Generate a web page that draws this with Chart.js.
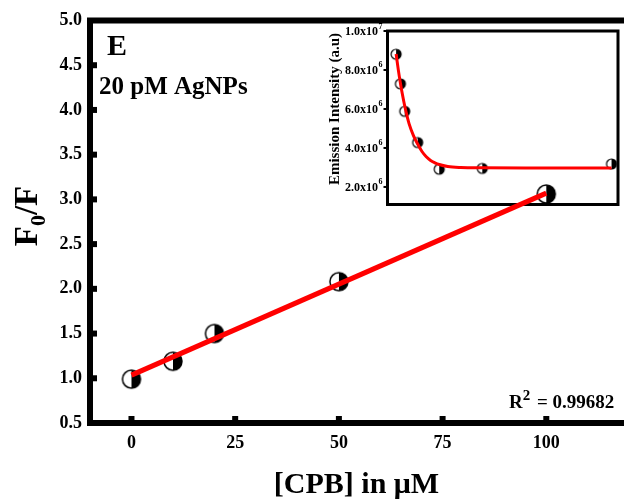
<!DOCTYPE html>
<html>
<head>
<meta charset="utf-8">
<script src="https://cdn.jsdelivr.net/npm/chart.js@4.4.0/dist/chart.umd.min.js"></script>
<style>
  html, body { margin: 0; padding: 0; background: #fff; overflow: hidden; }
  #wrap { position: relative; width: 624px; height: 501px; overflow: hidden; background: #fff; }
  #inset, #main { position: absolute; left: 0; top: 0; }
</style>
</head>
<body>
<div id="wrap">
  <canvas id="inset" width="624" height="501"></canvas>
  <canvas id="main" width="660" height="501"></canvas>
</div>
<script>
// Stern–Volmer plot: F0/F against CPB concentration (uM)
const cpbConc = [0, 10, 20, 50, 100];
const f0OverF = [0.99, 1.19, 1.50, 2.08, 3.06];
// linear fit end points
const fitConc = [0, 100];
const fitRatio = [1.035, 3.07];
const xTickValues = [0, 25, 50, 75, 100];
const yTickValues = [0.5, 1.0, 1.5, 2.0, 2.5, 3.0, 3.5, 4.0, 4.5, 5.0];

// Inset: emission intensity against CPB concentration
const insetConc = [0, 1, 2, 5, 10, 20, 50];
const insetIntensity = [8.81e6, 7.29e6, 5.88e6, 4.28e6, 2.91e6, 2.95e6, 3.18e6];
// decay fit curve
const insetFitConc = [0, 0.5, 1, 1.5, 2, 2.5, 3, 4, 5, 6, 7, 8, 9, 10, 12, 15, 20, 30, 40, 50];
const insetFitIntensity = [8.82e6, 8.02e6, 7.32e6, 6.70e6, 6.15e6, 5.67e6, 5.25e6, 4.65e6, 4.20e6,
  3.82e6, 3.55e6, 3.36e6, 3.24e6, 3.15e6, 3.05e6, 3.00e6, 2.98e6, 2.97e6, 2.97e6, 2.97e6];
const insetYTickValues = [2e6, 4e6, 6e6, 8e6, 1e7];

const SERIF = "'Liberation Serif', 'Times New Roman', serif";

// half white / half black circle marker
function halfMarker(r, lw) {
  const c = document.createElement('canvas');
  const s = Math.ceil(2 * r + lw + 2);
  c.width = s; c.height = s;
  const g = c.getContext('2d');
  const m = s / 2;
  g.fillStyle = '#fff';
  g.beginPath(); g.arc(m, m, r, 0, 2 * Math.PI); g.fill();
  g.fillStyle = '#000';
  g.beginPath(); g.moveTo(m, m - r); g.arc(m, m, r, -Math.PI / 2, Math.PI / 2); g.closePath(); g.fill();
  g.lineWidth = lw; g.strokeStyle = '#000';
  g.beginPath(); g.arc(m, m, r, 0, 2 * Math.PI); g.stroke();
  return c;
}

function toXY(xs, ys) { return xs.map((x, i) => ({ x: x, y: ys[i] })); }

// ---------- inset ----------
const insetFrame = {
  id: 'insetFrame',
  afterDatasetsDraw(chart) {
    const { ctx, chartArea: a, scales } = chart;
    ctx.save();
    ctx.strokeStyle = '#000';
    ctx.lineWidth = 3;
    ctx.strokeRect(a.left, a.top, a.right - a.left, a.bottom - a.top);
    const ys = scales.y;
    ctx.fillStyle = '#000';
    insetYTickValues.forEach(v => {
      const py = ys.getPixelForValue(v);
      ctx.fillRect(a.left - 4, py - 1, 3, 2);
      const e = Math.floor(Math.log10(v) + 1e-9);
      const mant = (v / Math.pow(10, e)).toFixed(1) + 'x10';
      ctx.font = 'bold 8px ' + SERIF;
      const ew = ctx.measureText(String(e)).width;
      const xr = a.left - 5;
      ctx.textAlign = 'left'; ctx.textBaseline = 'alphabetic';
      ctx.fillText(String(e), xr - ew, py - 2.5);
      ctx.font = 'bold 12px ' + SERIF;
      ctx.textAlign = 'right'; ctx.textBaseline = 'middle';
      ctx.fillText(mant, xr - ew - 0.5, py + 0.5);
    });
    ctx.translate(335, 109);
    ctx.rotate(-Math.PI / 2);
    ctx.font = 'bold 15px ' + SERIF;
    ctx.textAlign = 'center'; ctx.textBaseline = 'middle';
    ctx.fillText('Emission Intensity (a.u)', 0, 0);
    ctx.restore();
  }
};

new Chart(document.getElementById('inset'), {
  type: 'scatter',
  data: {
    datasets: [
      {
        data: toXY(insetFitConc, insetFitIntensity),
        showLine: true, borderColor: '#ff0000', borderWidth: 3,
        pointRadius: 0, cubicInterpolationMode: 'monotone', fill: false
      },
      {
        data: toXY(insetConc, insetIntensity),
        pointStyle: halfMarker(5, 1.2), pointRadius: 5, showLine: false
      }
    ]
  },
  options: {
    responsive: false, animation: false, events: [],
    layout: { padding: { left: 320, top: 31, right: 5.5, bottom: 296.5 } },
    plugins: { legend: { display: false }, tooltip: { enabled: false } },
    scales: {
      x: { type: 'linear', min: -2, max: 51.5, display: false },
      y: {
        type: 'linear', min: 1.1e6, max: 1e7,
        grid: { display: false, drawTicks: false },
        border: { display: false },
        ticks: { display: false },
        afterFit(s) { s.width = 67.5; }
      }
    }
  },
  plugins: [insetFrame]
});

// ---------- main plot ----------
const mainFrame = {
  id: 'mainFrame',
  beforeDatasetsDraw(chart) {
    const { ctx, chartArea: a, scales } = chart;
    ctx.save();
    ctx.strokeStyle = '#000';
    ctx.lineWidth = 6;
    ctx.beginPath();
    ctx.moveTo(a.right + 10, a.top);
    ctx.lineTo(a.left, a.top);
    ctx.lineTo(a.left, a.bottom);
    ctx.lineTo(a.right + 10, a.bottom);
    ctx.stroke();
    ctx.fillStyle = '#000';
    yTickValues.slice(1, -1).forEach(v => {
      const py = scales.y.getPixelForValue(v);
      ctx.fillRect(a.left + 3, py - 3, 4, 6);
    });
    xTickValues.forEach(v => {
      const px = scales.x.getPixelForValue(v);
      ctx.fillRect(px - 3, a.bottom - 7, 6, 4);
    });
    ctx.restore();
  },
  afterDraw(chart) {
    const { ctx } = chart;
    ctx.save();
    ctx.fillStyle = '#000';
    ctx.textBaseline = 'alphabetic';
    ctx.textAlign = 'left';
    ctx.font = 'bold 30px ' + SERIF;
    ctx.fillText('E', 107, 55);
    ctx.font = 'bold 25px ' + SERIF;
    ctx.fillText('20 pM AgNPs', 99, 94);

    // x axis title
    ctx.font = 'bold 30px ' + SERIF;
    ctx.textAlign = 'center';
    ctx.fillText('[CPB] in \u03BCM', 356.5, 493);

    // y axis title F0/F
    ctx.save();
    ctx.translate(37, 216);
    ctx.rotate(-Math.PI / 2);
    ctx.textAlign = 'left';
    const big = 'bold 33px ' + SERIF, small = 'bold 22px ' + SERIF;
    ctx.font = big; const wF = ctx.measureText('F').width; const wSl = ctx.measureText('/F').width;
    ctx.font = small; const w0 = ctx.measureText('0').width;
    let x0 = -(wF + w0 + wSl) / 2;
    ctx.font = big; ctx.fillText('F', x0, 0);
    ctx.font = small; ctx.fillText('0', x0 + wF, 8);
    ctx.font = big; ctx.fillText('/F', x0 + wF + w0, 0);
    ctx.restore();

    // R squared
    ctx.textAlign = 'left';
    ctx.font = 'bold 19px ' + SERIF;
    ctx.fillText('R', 509, 408);
    const wR = ctx.measureText('R').width;
    ctx.font = 'bold 15px ' + SERIF;
    ctx.fillText('2', 509 + wR, 400);
    ctx.font = 'bold 19px ' + SERIF;
    ctx.fillText('= 0.99682', 537, 408);
    ctx.restore();
  }
};

new Chart(document.getElementById('main'), {
  type: 'scatter',
  data: {
    datasets: [
      {
        data: toXY(fitConc, fitRatio),
        showLine: true, borderColor: '#ff0000', borderWidth: 5,
        pointRadius: 0, fill: false
      },
      {
        data: toXY(cpbConc, f0OverF),
        pointStyle: halfMarker(9, 1.5), pointRadius: 9, showLine: false
      }
    ]
  },
  options: {
    responsive: false, animation: false, events: [],
    layout: { padding: { left: 0, top: 20.5, right: 8, bottom: 0 } },
    plugins: { legend: { display: false }, tooltip: { enabled: false } },
    scales: {
      x: {
        type: 'linear', min: -10, max: 125,
        grid: { display: false, drawTicks: false },
        border: { display: false },
        afterBuildTicks(s) { s.ticks = xTickValues.map(v => ({ value: v })); },
        ticks: {
          color: '#000', padding: 10,
          font: { family: SERIF, size: 18, weight: 'bold' },
          callback: v => String(v)
        },
        afterFit(s) { s.height = 78; }
      },
      y: {
        type: 'linear', min: 0.5, max: 5.0,
        grid: { display: false, drawTicks: false },
        border: { display: false },
        afterBuildTicks(s) { s.ticks = yTickValues.map(v => ({ value: v })); },
        ticks: {
          color: '#000', padding: 8,
          font: { family: SERIF, size: 18, weight: 'bold' },
          callback: v => Number(v).toFixed(1)
        },
        afterFit(s) { s.width = 90; }
      }
    }
  },
  plugins: [mainFrame]
});
</script>
</body>
</html>
